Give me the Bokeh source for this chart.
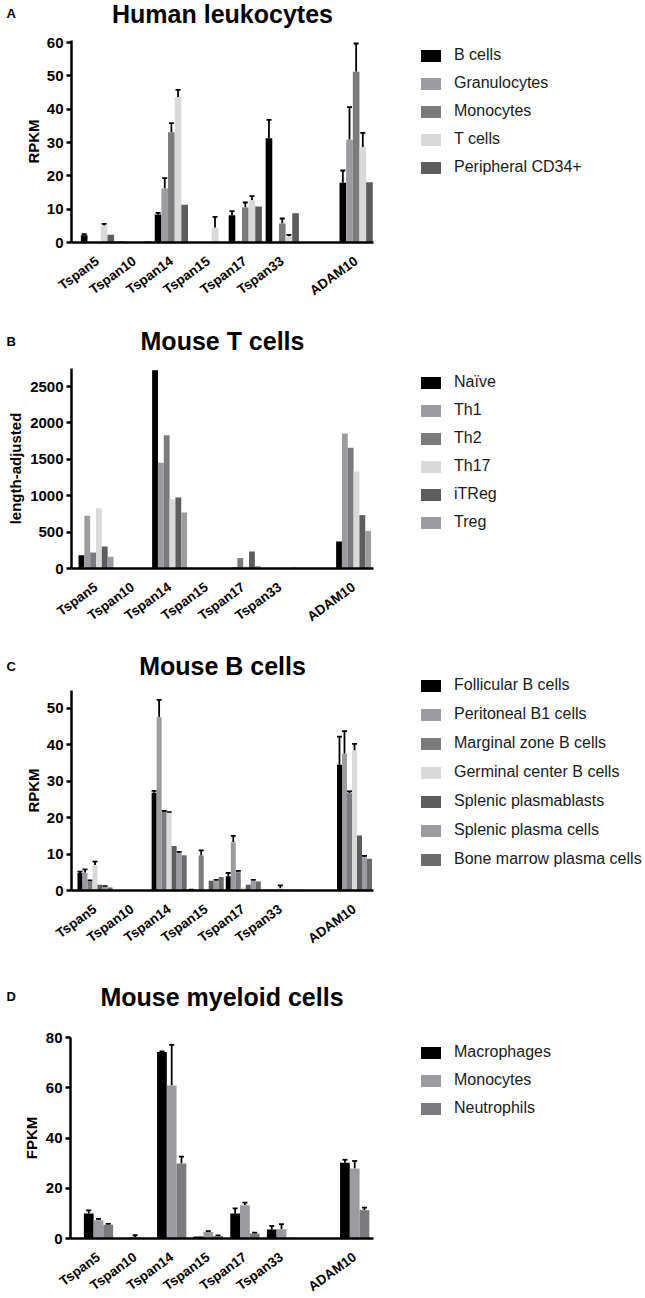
import math
from bokeh.plotting import figure
from bokeh.models import (Range1d, FixedTicker, Legend, LegendItem, Label,
                          Whisker, TeeHead, ColumnDataSource, LinearAxis)
from bokeh.layouts import column
from bokeh.embed import file_html
from bokeh.resources import INLINE

# ---------------- data ----------------
genes = ["Tspan5", "Tspan10", "Tspan14", "Tspan15", "Tspan17", "Tspan33", "ADAM10"]

# A: Human leukocytes (RPKM)
hum_series = ["B cells", "Granulocytes", "Monocytes", "T cells", "Peripheral CD34+"]
hum_b_cells = [2.2, 0.3, 8.4, 0.0, 8.2, 31.3, 17.9]
hum_b_cells_err = [0.3, 0, 0.5, 0, 1.2, 5.5, 3.7]
hum_granulocytes = [0.1, 0.1, 16.2, 0.0, 0.5, 0.2, 30.8]
hum_granulocytes_err = [0, 0, 3.1, 0, 0, 0, 9.8]
hum_monocytes = [0.1, 0.1, 33.1, 0.0, 10.5, 5.7, 51.2]
hum_monocytes_err = [0, 0, 2.7, 0, 1.5, 1.5, 8.5]
hum_t_cells = [5.0, 0.1, 43.6, 4.4, 12.7, 1.8, 28.6]
hum_t_cells_err = [0.6, 0, 2.2, 3.3, 1.2, 0.5, 4.3]
hum_cd34 = [2.3, 0.4, 11.3, 0.0, 10.8, 8.8, 18.1]
hum_cd34_err = [0, 0, 0, 0, 0, 0, 0]

# B: Mouse T cells (length-adjusted)
mt_series = ["Naïve", "Th1", "Th2", "Th17", "iTReg", "Treg"]
mt_naive = [183, 2, 2724, 0, 5, 8, 371]
mt_th1 = [723, 2, 1451, 0, 22, 3, 1854]
mt_th2 = [220, 2, 1832, 0, 145, 3, 1657]
mt_th17 = [829, 2, 952, 0, 30, 3, 1332]
mt_itreg = [302, 2, 975, 0, 233, 3, 733]
mt_treg = [160, 2, 769, 0, 35, 15, 517]

# C: Mouse B cells (RPKM)
mb_series = ["Follicular B cells", "Peritoneal B1 cells", "Marginal zone B cells",
             "Germinal center B cells", "Splenic plasmablasts", "Splenic plasma cells",
             "Bone marrow plasma cells"]
mb_follicular = [4.8, 0.1, 26.8, 0.5, 3.9, 0.2, 34.5]
mb_follicular_err = [0.4, 0, 0.5, 0, 0.9, 0, 7.7]
mb_peritoneal = [4.9, 0.1, 47.5, 0.1, 13.2, 0.2, 37.5]
mb_peritoneal_err = [0.9, 0, 4.8, 0, 1.8, 0, 6.2]
mb_marginal = [2.6, 0.0, 21.6, 9.6, 5.0, 0.2, 26.7]
mb_marginal_err = [0.2, 0, 0.2, 1.4, 0.4, 0, 0.5]
mb_germinal = [7.0, 0.0, 21.3, 0.1, 0.8, 0.7, 38.4]
mb_germinal_err = [0.9, 0, 0.2, 0, 0, 0.7, 1.8]
mb_plasmablasts = [1.6, 0.0, 12.2, 2.7, 1.6, 0.2, 15.1]
mb_plasmablasts_err = [0, 0, 0, 0, 0, 0, 0]
mb_spl_plasma = [1.0, 0.0, 10.2, 2.7, 2.7, 0.2, 9.1]
mb_spl_plasma_err = [0.2, 0, 0.4, 0.2, 0.2, 0, 0.4]
mb_bm_plasma = [0.8, 0.0, 9.7, 3.7, 2.5, 0.2, 8.7]
mb_bm_plasma_err = [0, 0, 0, 0, 0, 0, 0]

# D: Mouse myeloid cells (FPKM)
my_series = ["Macrophages", "Monocytes", "Neutrophils"]
my_macrophages = [10.0, 0.0, 74.3, 0.8, 10.0, 3.6, 30.2]
my_macrophages_err = [1.2, 0, 0.3, 0, 2.0, 1.4, 1.2]
my_monocytes = [7.3, 0.5, 61.0, 2.6, 13.3, 3.7, 27.9]
my_monocytes_err = [0.5, 0.8, 16.2, 0.3, 1.0, 2.0, 3.0]
my_neutrophils = [5.5, 0.1, 29.9, 1.0, 2.0, 0.3, 11.3]
my_neutrophils_err = [0.3, 0, 2.7, 0.2, 0.3, 0, 1.0]

# ---------------- styling ----------------
FONT = "Liberation Sans"
FIG_W = 645
BLACK = "#000000"
LGRAY = "#9c9ca0"
MGRAY = "#7b7b7d"
PALE = "#d9d9d9"
DGRAY = "#5d5d5d"
DGRAY2 = "#6b6b6b"

# x position of each gene (a blank slot before ADAM10)
gene_pos = [i if i < 6 else i + 1 for i in range(len(genes))]


def make_panel(letter, title, ylabel, names, vals, errs, colors, group_w,
               c0, spacing_px, axis_left_page, axis_right_page,
               yticks, y_tick_px,
               fig_top, frame_top, frame_bottom, fig_bottom,
               ylabel_cx, title_cy, letter_cy,
               legend_first_center, legend_pitch):
    height = fig_bottom - fig_top
    # data <-> page mapping (whole canvas is the frame)
    x_start = (0 - c0) / spacing_px
    x_end = (FIG_W - c0) / spacing_px
    k = y_tick_px  # pixels per data unit
    y_start = -(fig_bottom - frame_bottom) / k
    y_end = (frame_bottom - fig_top) / k
    x_lo = (axis_left_page - c0) / spacing_px
    x_hi = (axis_right_page - c0) / spacing_px
    y_hi = (frame_bottom - frame_top) / k

    p = figure(width=FIG_W, height=height, output_backend="svg",
               toolbar_location=None,
               x_range=Range1d(x_start, x_end), y_range=Range1d(y_start, y_end),
               x_axis_location=None, y_axis_location=None,
               min_border=0, min_border_left=0, min_border_right=0,
               min_border_top=0, min_border_bottom=0)
    p.outline_line_color = None
    p.grid.visible = False
    p.background_fill_color = "white"
    p.border_fill_color = "white"

    n = len(names)
    bw = group_w / n
    renderers = []
    for j, (name, v, e, c) in enumerate(zip(names, vals, errs, colors)):
        off = (j - (n - 1) / 2) * bw
        xs = [g + off for g in gene_pos]
        src = ColumnDataSource(dict(x=xs, top=v, gene=genes))
        r = p.vbar(x="x", top="top", bottom=0, width=bw * 0.999, source=src,
                   fill_color=c, line_color=None)
        renderers.append(r)
        if e is not None:
            ex, lo, hi = [], [], []
            for xi, vi, ei in zip(xs, v, e):
                if ei > 0:
                    ex.append(xi)
                    lo.append(vi)
                    hi.append(vi + ei)
            if ex:
                es = ColumnDataSource(dict(x=ex, lo=lo, hi=hi))
                w = Whisker(source=es, base="x", lower="lo", upper="hi",
                            dimension="height", line_color="black", line_width=1.8,
                            lower_head=None,
                            upper_head=TeeHead(size=5, line_width=1.8, line_color="black"))
                p.add_layout(w)

    # x axis (fixed at y = 0)
    xa = LinearAxis(fixed_location=0, bounds=(x_lo, x_hi))
    xa.ticker = FixedTicker(ticks=gene_pos, minor_ticks=[])
    xa.major_label_overrides = {g: name for g, name in zip(gene_pos, genes)}
    xa.major_label_orientation = 0.63
    xa.major_tick_out = 0
    xa.major_tick_in = 0
    xa.minor_tick_out = 0
    xa.minor_tick_in = 0
    xa.axis_line_width = 2.5
    xa.axis_line_color = "black"
    xa.major_label_text_font = FONT
    xa.major_label_text_font_style = "bold"
    xa.major_label_text_font_size = "13.5px"
    xa.major_label_text_color = "black"
    xa.major_label_standoff = 17
    p.add_layout(xa, "below")

    # y axis (fixed at the left end of the x axis)
    ya = LinearAxis(fixed_location=x_lo, bounds=(0, y_hi))
    ya.ticker = FixedTicker(ticks=yticks, minor_ticks=[])
    ya.major_tick_out = 5
    ya.major_tick_in = 0
    ya.minor_tick_out = 0
    ya.minor_tick_in = 0
    ya.major_tick_line_width = 2.5
    ya.major_tick_line_color = "black"
    ya.axis_line_width = 2.5
    ya.axis_line_color = "black"
    ya.major_label_text_font = FONT
    ya.major_label_text_font_style = "bold"
    ya.major_label_text_font_size = "15px"
    ya.major_label_text_color = "black"
    ya.major_label_standoff = 3
    p.add_layout(ya, "left")

    def sy(page_y):
        return fig_bottom - page_y

    # y-axis label
    p.add_layout(Label(x=ylabel_cx, y=sy((frame_top + frame_bottom) / 2),
                       x_units="screen", y_units="screen", text=ylabel,
                       angle=math.pi / 2, text_align="center", text_baseline="middle",
                       text_font=FONT, text_font_style="bold", text_font_size="15px",
                       text_color="black"))
    # title
    p.add_layout(Label(x=(axis_left_page + axis_right_page) / 2, y=sy(title_cy),
                       x_units="screen", y_units="screen", text=title,
                       text_align="center", text_baseline="middle",
                       text_font=FONT, text_font_style="bold", text_font_size="25px",
                       text_color="black"))
    # panel letter
    p.add_layout(Label(x=6, y=sy(letter_cy),
                       x_units="screen", y_units="screen", text=letter,
                       text_align="left", text_baseline="middle",
                       text_font=FONT, text_font_style="bold", text_font_size="13px",
                       text_color="black"))

    # legend
    item_h = 20
    spc = int(round(legend_pitch - item_h))
    leg_h = n * item_h + (n - 1) * spc
    leg_top = legend_first_center - item_h / 2
    leg_bottom = leg_top + leg_h
    legend = Legend(items=[LegendItem(label=nm, renderers=[r]) for nm, r in zip(names, renderers)],
                    location=(418, int(round(sy(leg_bottom)))),
                    orientation="vertical", glyph_width=25, glyph_height=15,
                    label_height=item_h, label_standoff=11, spacing=spc,
                    padding=0, margin=0, border_line_color=None,
                    background_fill_alpha=0, label_text_font=FONT,
                    label_text_font_size="16px", label_text_color="#1a1a1a")
    p.add_layout(legend)
    return p


pA = make_panel("A", "Human leukocytes", "RPKM", hum_series,
                [hum_b_cells, hum_granulocytes, hum_monocytes, hum_t_cells, hum_cd34],
                [hum_b_cells_err, hum_granulocytes_err, hum_monocytes_err, hum_t_cells_err, hum_cd34_err],
                [BLACK, LGRAY, MGRAY, PALE, DGRAY], 0.9,
                97, 36.95, 71, 373,
                [0, 10, 20, 30, 40, 50, 60], 200 / 60,
                0, 40, 242, 305, 33, 13.5, 12.5, 55.5, 28)

pB = make_panel("B", "Mouse T cells", "length-adjusted", mt_series,
                [mt_naive, mt_th1, mt_th2, mt_th17, mt_itreg, mt_treg],
                [None] * 6,
                [BLACK, LGRAY, MGRAY, PALE, DGRAY, LGRAY], 0.95,
                95.5, 36.8, 71, 373,
                [0, 500, 1000, 1500, 2000, 2500], 182 / 2500,
                305, 368, 568, 628, 15, 340, 341, 381.5, 28)

pC = make_panel("C", "Mouse B cells", "RPKM", mb_series,
                [mb_follicular, mb_peritoneal, mb_marginal, mb_germinal,
                 mb_plasmablasts, mb_spl_plasma, mb_bm_plasma],
                [mb_follicular_err, mb_peritoneal_err, mb_marginal_err, mb_germinal_err,
                 mb_plasmablasts_err, mb_spl_plasma_err, mb_bm_plasma_err],
                [BLACK, LGRAY, MGRAY, PALE, DGRAY, LGRAY, DGRAY2], 0.945,
                94.5, 37.07, 71, 373,
                [0, 10, 20, 30, 40, 50], 182.3 / 50,
                628, 690, 890, 950, 33, 665, 665.5, 685, 29)

pD = make_panel("D", "Mouse myeloid cells", "FPKM", my_series,
                [my_macrophages, my_monocytes, my_neutrophils],
                [my_macrophages_err, my_monocytes_err, my_neutrophils_err],
                [BLACK, LGRAY, MGRAY], 0.8,
                98, 36.6, 70, 373,
                [0, 20, 40, 60, 80], 200.7 / 80,
                950, 1037, 1238, 1298, 31, 996.5, 996, 1052, 28)

layout = column(pA, pB, pC, pD, spacing=0)
open("out.html", "w").write(file_html(layout, INLINE))
